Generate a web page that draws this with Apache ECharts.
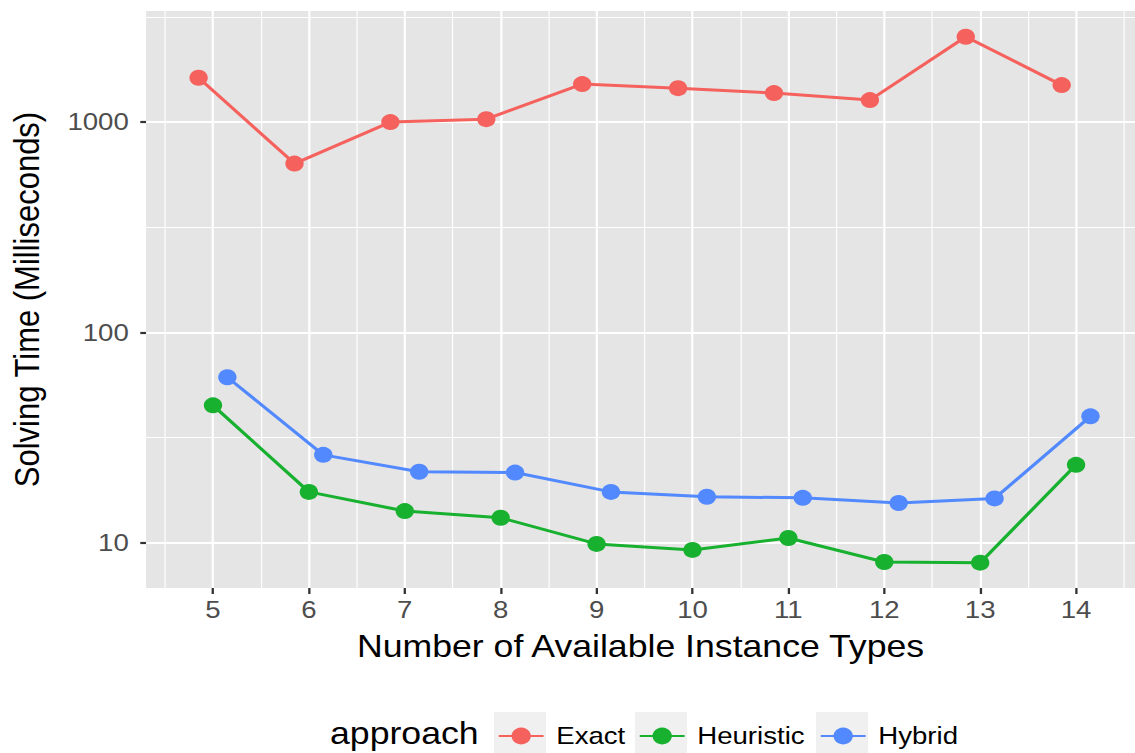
<!DOCTYPE html>
<html>
<head>
<meta charset="utf-8">
<script src="https://cdn.jsdelivr.net/npm/echarts@6/dist/echarts.min.js"></script>
<style>
html,body{margin:0;padding:0;background:#fff;overflow:hidden;width:1135px;height:753px;}
#chart{width:987px;height:753px;transform:scaleX(1.15);transform-origin:0 0;}
</style>
</head>
<body>
<div id="chart"></div>
<script>
// ---- data ----
const X_VALUES = [5, 6, 7, 8, 9, 10, 11, 12, 13, 14];
const EXACT = [1626, 635, 1000, 1033, 1517, 1451, 1374, 1273, 2548, 1500];
const HEURISTIC = [44.9, 17.4, 14.1, 13.1, 9.84, 9.21, 10.5, 8.07, 8.01, 23.4];
const HYBRID = [61.1, 26.1, 21.7, 21.5, 17.4, 16.5, 16.3, 15.4, 16.2, 39.8];
const SERIES_NAMES = ['Exact', 'Heuristic', 'Hybrid'];
const Y_TICKS = [10, 100, 1000];
const Y_MINOR = [31.62, 316.2, 3162];
const X_MINOR = [4.5, 5.5, 6.5, 7.5, 8.5, 9.5, 10.5, 11.5, 12.5, 13.5, 14.5];

// ---- layout / style ----
const COLORS = ['#F5625D', '#17B12F', '#5289FF'];
const DODGE = [-0.15, 0, 0.15];
const X_MIN = 4.302, X_MAX = 14.615;
const Y_MIN = 6.07, Y_MAX = 3378;
const FONT = 'Liberation Sans, Arial, Helvetica, sans-serif';
const KEY_LEFTS = [429.6, 552.2, 709.6];
const KEY_W = 45.2, KEY_TOP = 712, KEY_H = 45;

const values = [EXACT, HEURISTIC, HYBRID];
const series = SERIES_NAMES.map((name, i) => ({
  name: name,
  type: 'line',
  xAxisIndex: 0,
  yAxisIndex: 0,
  data: X_VALUES.map((x, j) => [x + DODGE[i], values[i][j]]),
  symbol: 'circle',
  symbolSize: 16,
  showSymbol: true,
  lineStyle: { color: COLORS[i], width: 3 },
  itemStyle: { color: COLORS[i] },
  emphasis: { disabled: true },
  z: 3 + i
}));

const chart = echarts.init(document.getElementById('chart'), null, { renderer: 'svg', width: 987, height: 753 });

const tickLabel = { fontSize: 24, color: '#4D4D4D', fontFamily: FONT };

const option = {
  animation: false,
  textStyle: { fontFamily: FONT },
  grid: {
    left: 126.1, right: 0, top: 11, bottom: 165,
    show: true, backgroundColor: '#E5E5E5', borderWidth: 0,
    containLabel: false
  },
  title: {
    text: 'approach',
    left: 287, top: 718, padding: 0,
    textStyle: { fontSize: 31, fontWeight: 'normal', color: '#000', fontFamily: FONT }
  },
  legend: SERIES_NAMES.map((name, i) => ({
    data: [name],
    left: KEY_LEFTS[i] + 3.1,
    top: 724,
    padding: 0,
    itemWidth: 39,
    itemHeight: 21,
    selectedMode: false,
    textStyle: { fontSize: 24, color: '#000', fontFamily: FONT, padding: [0, 0, 0, 6] }
  })),
  graphic: KEY_LEFTS.map(l => ({
    type: 'rect', left: l, top: KEY_TOP, z: 0, silent: true,
    shape: { width: KEY_W, height: KEY_H },
    style: { fill: '#F0F0F0' }
  })),
  xAxis: [
    {
      type: 'value', min: X_MIN, max: X_MAX, gridIndex: 0, position: 'bottom',
      name: 'Number of Available Instance Types',
      nameLocation: 'middle', nameGap: 43,
      nameTextStyle: { fontSize: 31, color: '#000', fontFamily: FONT },
      axisLine: { show: false },
      axisTick: { show: true, customValues: X_VALUES, length: 6, lineStyle: { color: '#333333', width: 2 } },
      axisLabel: Object.assign({ customValues: X_VALUES, margin: 10, formatter: v => String(v) }, tickLabel),
      splitLine: { show: true, lineStyle: { color: '#FFFFFF', width: 1.9 } },
      minorSplitLine: { show: false }
    },
    {
      type: 'value', min: X_MIN, max: X_MAX, gridIndex: 0, position: 'bottom',
      axisLine: { show: false },
      axisTick: { show: false, customValues: X_MINOR },
      axisLabel: { show: false },
      splitLine: { show: true, lineStyle: { color: '#FFFFFF', width: 1 } }
    }
  ],
  yAxis: [
    {
      type: 'log', logBase: 10, min: Y_MIN, max: Y_MAX, gridIndex: 0, position: 'left',
      name: 'Solving Time (Milliseconds)',
      nameLocation: 'middle', nameGap: 88,
      nameTextStyle: { fontSize: 31, color: '#000', fontFamily: FONT },
      axisLine: { show: false },
      axisTick: { show: true, customValues: Y_TICKS, length: 5, lineStyle: { color: '#333333', width: 2.2 } },
      axisLabel: Object.assign({ customValues: Y_TICKS, margin: 15, formatter: v => String(Math.round(v)) }, tickLabel),
      splitLine: { show: true, lineStyle: { color: '#FFFFFF', width: 2.2 } }
    },
    {
      type: 'log', logBase: 10, min: Y_MIN, max: Y_MAX, gridIndex: 0, position: 'left',
      axisLine: { show: false },
      axisTick: { show: false, customValues: Y_MINOR },
      axisLabel: { show: false },
      splitLine: { show: true, lineStyle: { color: '#FFFFFF', width: 1.1 } }
    }
  ],
  series: series
};
chart.setOption(option);
</script>
</body>
</html>
